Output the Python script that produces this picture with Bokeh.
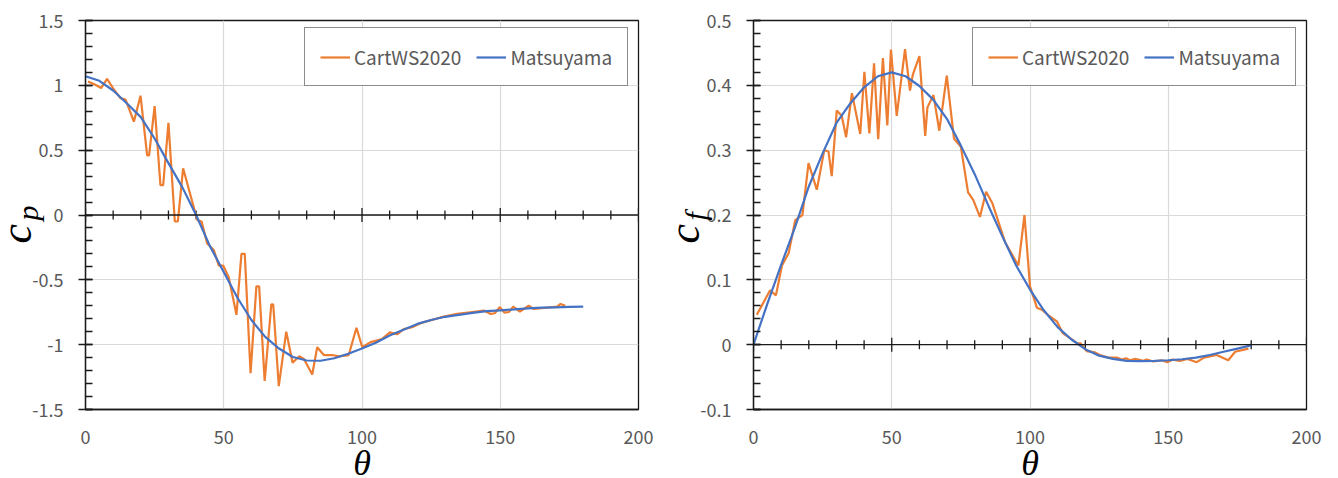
from math import pi

from bokeh.embed import file_html
from bokeh.layouts import row
from bokeh.models import (FixedTicker, Legend, LegendItem,
                          NumeralTickFormatter, Range1d, Span, Title)
from bokeh.plotting import figure
from bokeh.resources import INLINE

# ---- pressure coefficient c_p ----
cp_cart_theta = [0.9, 3.0, 5.7, 7.8, 10.2, 12.7, 14.5, 17.5, 19.9, 22.3,
                 23.0, 25.0, 27.1, 28.1, 30.0, 32.3, 33.4, 35.3, 39.8, 40.5,
                 42.0, 44.0, 46.4, 48.2, 49.8, 51.8, 54.6, 56.4, 57.6, 59.7,
                 61.8, 62.8, 64.8, 67.2, 67.9, 69.9, 72.6, 74.9, 77.3, 79.0,
                 82.0, 83.8, 86.2, 89.2, 91.6, 95.2, 98.0, 100.1, 103.1, 107.3,
                 110.1, 112.7, 115.1, 118.1, 121.8, 128.4, 134.4, 139.2, 144.1, 146.5,
                 148.0, 149.8, 151.5, 153.1, 154.7, 157.1, 160.3, 162.1, 165.8, 170.6,
                 171.8, 173.5]
cp_cart = [1.03, 1.01, 0.98, 1.05, 0.97, 0.90, 0.89, 0.72, 0.92, 0.46,
           0.46, 0.84, 0.23, 0.23, 0.71, -0.05, -0.05, 0.36, 0.01, -0.04,
           -0.05, -0.22, -0.27, -0.39, -0.39, -0.48, -0.77, -0.30, -0.30, -1.22,
           -0.55, -0.55, -1.28, -0.69, -0.69, -1.32, -0.90, -1.14, -1.09, -1.11,
           -1.23, -1.02, -1.08, -1.08, -1.09, -1.08, -0.87, -1.02, -0.98, -0.956,
           -0.905, -0.92, -0.88, -0.866, -0.83, -0.79, -0.763, -0.75, -0.737, -0.763,
           -0.758, -0.71, -0.753, -0.748, -0.707, -0.745, -0.70, -0.725, -0.717, -0.707,
           -0.686, -0.70]

mats_theta = [0, 5, 10, 15, 20, 25, 30, 35, 40, 45, 50, 55, 60, 65, 70, 75,
              80, 85, 90, 95, 100, 105, 110, 115, 120, 125, 130, 135, 140,
              145, 150, 155, 160, 165, 170, 175, 180]
cp_mats = [1.07, 1.035, 0.96, 0.86, 0.755, 0.59, 0.40, 0.215, 0.0, -0.24,
           -0.44, -0.64, -0.81, -0.94, -1.03, -1.095, -1.122, -1.124, -1.105, -1.07,
           -1.03, -0.985, -0.93, -0.885, -0.84, -0.81, -0.785, -0.77, -0.755, -0.742,
           -0.735, -0.728, -0.72, -0.715, -0.712, -0.709, -0.707]

# ---- skin friction coefficient c_f ----
cf_cart_theta = [1.2, 6.0, 8.1, 10.3, 12.7, 15.1, 17.7, 19.9, 22.9, 25.6,
                 27.1, 28.3, 30.1, 31.9, 33.5, 35.6, 38.6, 40.1, 41.9, 43.6,
                 45.1, 46.8, 48.4, 49.7, 51.8, 54.8, 56.6, 57.6, 60.0, 62.1,
                 62.9, 65.1, 67.2, 69.9, 72.5, 75.0, 77.6, 79.5, 81.9, 84.1,
                 86.4, 91.0, 95.8, 98.0, 100.0, 102.5, 104.3, 106.7, 109.7, 111.8,
                 114.5, 117.1, 118.3, 120.5, 123.5, 125.3, 128.3, 131.6, 133.2, 134.7,
                 136.2, 138.0, 141.0, 142.2, 144.6, 147.6, 149.7, 151.6, 154.2, 156.9,
                 160.3, 162.9, 167.5, 171.7, 174.2, 179.0]
cf_cart = [0.046, 0.084, 0.076, 0.122, 0.141, 0.192, 0.200, 0.280, 0.239, 0.300,
           0.298, 0.260, 0.361, 0.353, 0.320, 0.388, 0.325, 0.421, 0.326, 0.434,
           0.317, 0.442, 0.338, 0.455, 0.353, 0.456, 0.392, 0.416, 0.445, 0.322,
           0.366, 0.385, 0.330, 0.415, 0.318, 0.305, 0.235, 0.223, 0.197, 0.236,
           0.218, 0.158, 0.122, 0.200, 0.090, 0.057, 0.054, 0.045, 0.036, 0.018,
           0.010, 0.002, 0.002, -0.010, -0.012, -0.016, -0.020, -0.020, -0.023, -0.021,
           -0.024, -0.022, -0.025, -0.023, -0.026, -0.024, -0.027, -0.023, -0.025, -0.022,
           -0.027, -0.020, -0.016, -0.024, -0.011, -0.006]
cf_mats = [0.0, 0.063, 0.123, 0.181, 0.244, 0.295, 0.342, 0.372, 0.397, 0.414,
           0.42, 0.414, 0.399, 0.378, 0.348, 0.307, 0.263, 0.214, 0.167, 0.122,
           0.085, 0.053, 0.027, 0.008, -0.007, -0.017, -0.022, -0.025, -0.0255, -0.025,
           -0.024, -0.0225, -0.020, -0.016, -0.011, -0.006, -0.001]

# ---- ticks ----
x_major = [0, 50, 100, 150, 200]
x_minor = [10, 20, 30, 40, 60, 70, 80, 90, 110, 120, 130, 140, 160, 170, 180, 190]
cp_major = [-1.5, -1.0, -0.5, 0.0, 0.5, 1.0, 1.5]
cp_minor = [round(-1.5 + 0.1 * i, 2) for i in range(31)]
cf_major = [-0.1, 0.0, 0.1, 0.2, 0.3, 0.4, 0.5]
cf_minor = [round(-0.1 + 0.02 * i, 3) for i in range(31)]

ORANGE = "#ED7D31"
BLUE = "#4472C4"
DARK = "#1a1a1a"
TICK_FONT = "Noto Sans CJK JP"
MATH_FONT = "Liberation Serif"
TEXT_GREY = "#595959"
FIG_W, FIG_H = 669, 478
FRAME_W = 553


def math_title(text, size, **kw):
    return Title(text=text, text_font=MATH_FONT, text_font_style="italic",
                 text_font_size=size, text_color="black", **kw)


def panel(theta_c, val_c, val_m, y_lo, y_hi, y_major, y_minor, sub, b_left):
    p = figure(width=FIG_W, height=FIG_H,
               min_border_left=b_left, min_border_right=FIG_W - b_left - FRAME_W,
               min_border_top=20, min_border_bottom=69,
               x_range=Range1d(0, 200), y_range=Range1d(y_lo, y_hi),
               title=None, toolbar_location=None, output_backend="svg")
    p.outline_line_color = DARK
    p.outline_line_width = 1.3
    p.background_fill_color = "white"
    p.border_fill_color = "white"

    xa = p.xaxis[0]
    xa.ticker = FixedTicker(ticks=x_major)
    xa.formatter = NumeralTickFormatter(format="0")
    xa.major_tick_in = 0
    xa.major_tick_out = 0
    xa.minor_tick_in = 0
    xa.minor_tick_out = 0
    xa.axis_line_color = DARK
    xa.axis_line_width = 1.3
    xa.major_label_standoff = 20
    xa.major_label_text_font = TICK_FONT
    xa.major_label_text_font_size = "18px"
    xa.major_label_text_color = TEXT_GREY

    ya = p.yaxis[0]
    ya.ticker = FixedTicker(ticks=y_major, minor_ticks=y_minor)
    ya.formatter = NumeralTickFormatter(format="0.[0]")
    ya.major_tick_in = 7
    ya.major_tick_out = 7
    ya.minor_tick_in = 7
    ya.minor_tick_out = 0
    ya.major_tick_line_color = DARK
    ya.minor_tick_line_color = DARK
    ya.major_tick_line_width = 1.3
    ya.minor_tick_line_width = 1.3
    ya.axis_line_color = DARK
    ya.axis_line_width = 1.3
    ya.major_label_standoff = 15
    ya.major_label_text_font = TICK_FONT
    ya.major_label_text_font_size = "18px"
    ya.major_label_text_color = TEXT_GREY

    p.xgrid.grid_line_color = "#d9d9d9"
    p.ygrid.grid_line_color = "#d9d9d9"
    p.xgrid.grid_line_width = 1.2
    p.ygrid.grid_line_width = 1.2

    # horizontal axis crossing at zero, with cross ticks
    p.add_layout(Span(location=0, dimension="width", line_color=DARK,
                      line_width=1.3))
    p.scatter(x=x_major, y=[0] * len(x_major), marker="dash", angle=pi / 2,
              size=14, line_color=DARK, line_width=1.3)
    p.scatter(x=x_minor, y=[0] * len(x_minor), marker="dash", angle=pi / 2,
              size=9, line_color=DARK, line_width=1.3)

    r_c = p.line(theta_c, val_c, line_color=ORANGE, line_width=2.2)
    r_m = p.line(mats_theta, val_m, line_color=BLUE, line_width=2.2)

    legend = Legend(items=[LegendItem(label="CartWS2020", renderers=[r_c]),
                           LegendItem(label="Matsuyama", renderers=[r_m])],
                    location=(219, 323), orientation="horizontal",
                    border_line_color=DARK, border_line_width=1.2,
                    padding=15, margin=0, spacing=15, label_standoff=4,
                    glyph_width=30, glyph_height=22, label_height=22,
                    label_text_font=TICK_FONT, label_text_font_size="19px",
                    label_text_color=TEXT_GREY, background_fill_alpha=1)
    p.add_layout(legend)

    # axis titles: theta below, c with its subscript on the left
    p.add_layout(math_title("θ", "36px", align="center",
                            vertical_align="bottom", standoff=-11), "below")
    p.add_layout(math_title(sub, "30px", align="left", offset=189,
                            vertical_align="middle", standoff=-30), "left")
    p.add_layout(math_title("c", "44px", align="left", offset=166,
                            vertical_align="middle", standoff=-35), "left")
    return p


p_left = panel(cp_cart_theta, cp_cart, cp_mats, -1.5, 1.5, cp_major, cp_minor,
               "p", 85)
p_right = panel(cf_cart_theta, cf_cart, cf_mats, -0.1, 0.5, cf_major, cf_minor,
                "f", 84)

layout = row(p_left, p_right)
open("out.html", "w").write(file_html(layout, INLINE))
